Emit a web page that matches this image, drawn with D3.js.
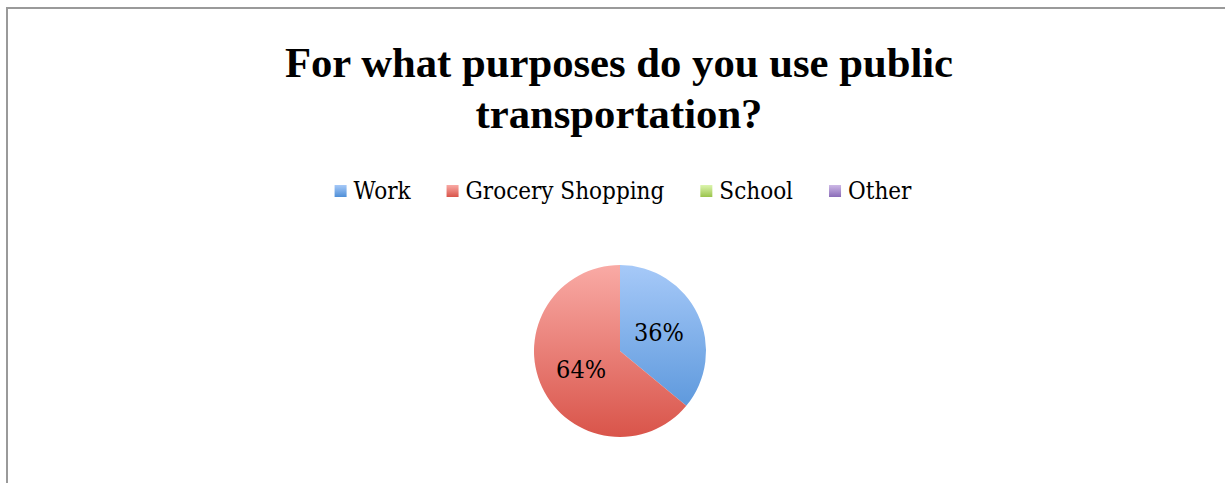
<!DOCTYPE html>
<html>
<head>
<meta charset="utf-8">
<script src="https://cdn.jsdelivr.net/npm/d3@7"></script>
<style>
  html, body { margin: 0; padding: 0; background: #fff; }
  svg { display: block; }
</style>
</head>
<body>
<svg id="chart" width="1225" height="483"></svg>
<script>
// Survey answers
const titleLines = ["For what purposes do you use public", "transportation?"];
const categories = ["Work", "Grocery Shopping", "School", "Other"];
const values = [36, 64, 0, 0];
const labels = ["36%", "64%", "", ""];

// Light (top) and dark (bottom) shade of each slice's vertical gradient
const lightColors = ["#a6c9f8", "#f9aaa5", "#dcf5ae", "#cdb8e6"];
const darkColors = ["#4f8fd7", "#d9544a", "#9bc44c", "#8a6cb8"];

const svg = d3.select("#chart");
const W = 1225, H = 483;

// Chart frame
svg.append("rect")
  .attr("x", 7).attr("y", 8)
  .attr("width", W + 10).attr("height", H + 10)
  .attr("fill", "#fff")
  .attr("stroke", "#9a9a9a")
  .attr("stroke-width", 2);

const cx = 620, cy = 351, R = 86;

// Gradients
const defs = svg.append("defs");
categories.forEach((c, i) => {
  const g = defs.append("linearGradient")
    .attr("id", "grad" + i)
    .attr("gradientUnits", "userSpaceOnUse")
    .attr("x1", 0).attr("y1", -R).attr("x2", 0).attr("y2", R);
  g.append("stop").attr("offset", "0%").attr("stop-color", lightColors[i]);
  g.append("stop").attr("offset", "100%").attr("stop-color", darkColors[i]);
  const lg = defs.append("linearGradient")
    .attr("id", "lgrad" + i)
    .attr("x1", 0).attr("y1", 0).attr("x2", 0).attr("y2", 1);
  lg.append("stop").attr("offset", "0%").attr("stop-color", lightColors[i]);
  lg.append("stop").attr("offset", "100%").attr("stop-color", darkColors[i]);
});

// Title
const title = svg.append("text")
  .attr("text-anchor", "middle")
  .attr("font-family", "'Liberation Serif', 'Times New Roman', serif")
  .attr("font-weight", "bold")
  .attr("font-size", 42.7)
  .attr("fill", "#000");
titleLines.forEach((t, i) => {
  title.append("tspan").attr("x", 619).attr("y", 77 + i * 51).text(t);
});

// Legend
const legendFont = "'DejaVu Serif Condensed', 'DejaVu Serif', serif";
const legend = svg.append("g").attr("transform", "translate(0,199)");
const items = legend.selectAll("g.item").data(categories).join("g").attr("class", "item");
items.append("rect")
  .attr("y", -14).attr("width", 12).attr("height", 12)
  .attr("fill", (d, i) => `url(#lgrad${i})`);
items.append("text")
  .attr("x", 19)
  .attr("font-family", legendFont)
  .attr("font-size", 24)
  .attr("fill", "#000")
  .text(d => d);
const gap = 36;
let widths = [];
items.each(function () {
  widths.push(19 + d3.select(this).select("text").node().getComputedTextLength());
});
const total = d3.sum(widths) + gap * (widths.length - 1);
let x0 = 623 - total / 2;
items.attr("transform", (d, i) => {
  const x = x0;
  x0 += widths[i] + gap;
  return `translate(${x},0)`;
});

// Pie
const pie = d3.pie().sort(null).value(d => d.value);
const arcs = pie(categories.map((c, i) => ({ name: c, value: values[i], label: labels[i], i })));
const arc = d3.arc().innerRadius(0).outerRadius(R);
const g = svg.append("g").attr("transform", `translate(${cx},${cy})`);
g.selectAll("path")
  .data(arcs.filter(a => a.data.value > 0))
  .join("path")
  .attr("d", arc)
  .attr("fill", d => `url(#grad${d.data.i})`);

const labelArc = d3.arc().innerRadius(0).outerRadius(R * 1.0);
g.selectAll("text.lbl")
  .data(arcs.filter(a => a.data.value > 0))
  .join("text")
  .attr("class", "lbl")
  .attr("transform", d => {
    const [x, y] = labelArc.centroid(d);
    return `translate(${x},${y})`;
  })
  .attr("text-anchor", "middle")
  .attr("dy", "0.35em")
  .attr("font-family", legendFont)
  .attr("font-size", 25)
  .attr("fill", "#000")
  .text(d => d.data.label);
</script>
</body>
</html>
